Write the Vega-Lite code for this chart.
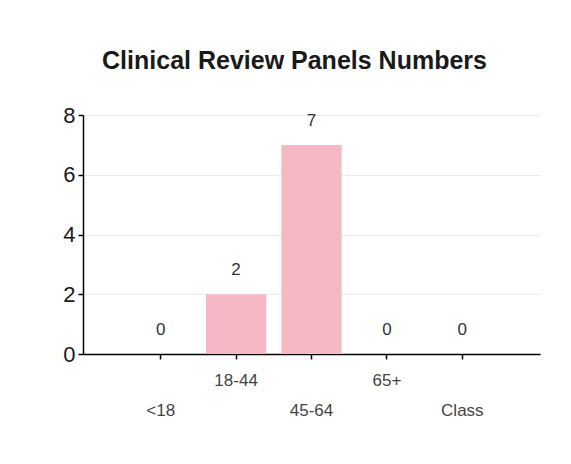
{
  "$schema": "https://vega.github.io/schema/vega-lite/v6.json",
  "autosize": "none",
  "width": 457,
  "height": 239,
  "padding": {"left": 83, "top": 115, "right": 31, "bottom": 110},
  "background": "white",
  "title": {
    "text": "Clinical Review Panels Numbers",
    "font": "Liberation Sans",
    "fontSize": 25,
    "fontWeight": "bold",
    "color": "#1a1a1a",
    "anchor": "middle",
    "dx": -17,
    "offset": 30
  },
  "data": {
    "values": [
      {"group": "<18", "count": 0},
      {"group": "18-44", "count": 2},
      {"group": "45-64", "count": 7},
      {"group": "65+", "count": 0},
      {"group": "Class", "count": 0}
    ]
  },
  "encoding": {
    "x": {
      "field": "group",
      "type": "nominal",
      "sort": null,
      "scale": {"paddingInner": 0.2, "paddingOuter": 0.63},
      "axis": {
        "title": null,
        "labelAngle": 0,
        "labelFont": "Liberation Sans",
        "labelFontSize": 17,
        "labelColor": "#444444",
        "labelPadding": {"condition": {"test": "datum.value === '18-44' || datum.value === '65+'", "value": 13}, "value": 43},
        "domainColor": "#000000",
        "domainWidth": 1.5,
        "tickColor": "#000000",
        "tickSize": 5,
        "tickWidth": 1.5
      }
    },
    "y": {
      "field": "count",
      "type": "quantitative",
      "scale": {"domain": [0, 8]},
      "axis": {
        "title": null,
        "values": [0, 2, 4, 6, 8],
        "labelFont": "Liberation Sans",
        "labelFontSize": 22,
        "labelColor": "#1a1a1a",
        "labelPadding": 3,
        "domainColor": "#000000",
        "domainWidth": 1.5,
        "tickColor": "#000000",
        "tickSize": 5,
        "tickWidth": 1.5,
        "gridColor": "#ebebeb",
        "gridWidth": 1
      }
    }
  },
  "layer": [
    {"mark": {"type": "bar", "color": "#f6b8c4"}},
    {
      "mark": {"type": "text", "baseline": "bottom", "dy": -15, "font": "Liberation Sans", "fontSize": 17, "color": "#333333"},
      "encoding": {"text": {"field": "count", "type": "quantitative"}}
    }
  ],
  "config": {"view": {"stroke": null}}
}
